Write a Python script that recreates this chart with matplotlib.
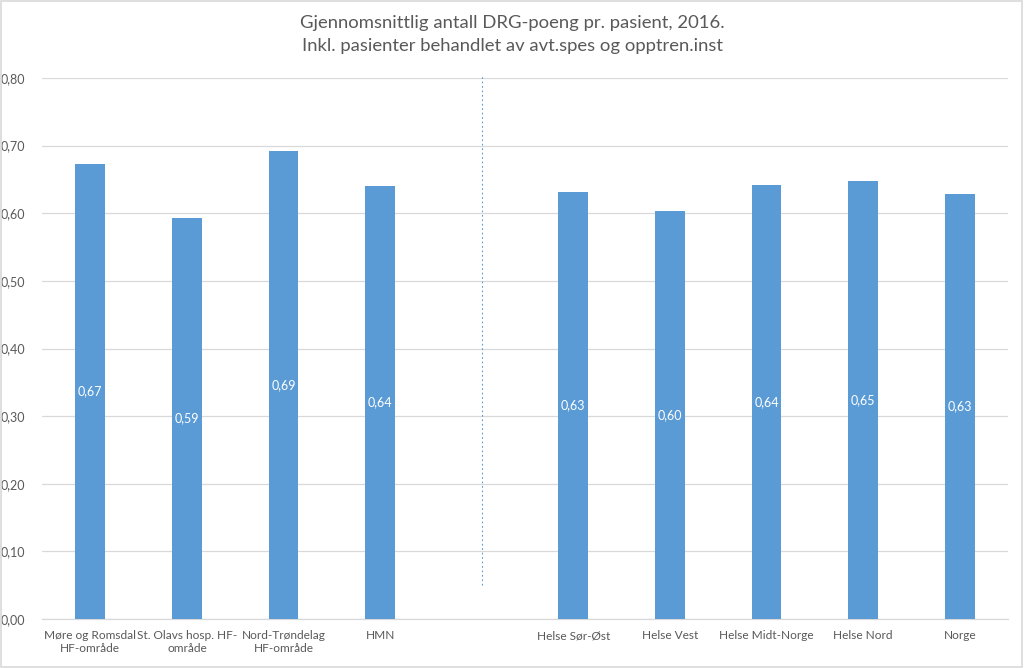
import matplotlib

matplotlib.use("Agg")
import matplotlib.pyplot as plt
import numpy as np

# Data (slot 4 is an empty separator slot)
categories = [
    "Møre og Romsdal\nHF-område",
    "St. Olavs hosp. HF-\nområde",
    "Nord-Trøndelag\nHF-område",
    "HMN",
    "",
    "Helse Sør-Øst",
    "Helse Vest",
    "Helse Midt-Norge",
    "Helse Nord",
    "Norge",
]
values = [0.673, 0.593, 0.692, 0.641, np.nan, 0.631, 0.603, 0.642, 0.648, 0.629]
value_labels = ["0,67", "0,59", "0,69", "0,64", "", "0,63", "0,60", "0,64", "0,65", "0,63"]
y_ticks = [0.0, 0.1, 0.2, 0.3, 0.4, 0.5, 0.6, 0.7, 0.8]
y_tick_labels = ["0,00", "0,10", "0,20", "0,30", "0,40", "0,50", "0,60", "0,70", "0,80"]
separator_x = 4.05
separator_span = (0.05, 0.805)

plt.rcParams["font.family"] = ["Lato", "DejaVu Sans"]
text_color = "#595959"
bar_color = "#5B9BD5"

fig = plt.figure(figsize=(10.24, 6.68), dpi=100)
fig.patch.set_facecolor("white")
ax = fig.add_axes([42 / 1024, 1 - 619 / 668, 966 / 1024, 541 / 668])

x = np.arange(len(categories))
ax.bar(x, np.nan_to_num(values), width=0.31, color=bar_color, zorder=3)
for xi, v, lab in zip(x, values, value_labels):
    if np.isnan(v):
        continue
    ax.text(xi, v / 2, lab, ha="center", va="center", color="white",
            fontsize=9, zorder=4)

ax.plot([separator_x, separator_x], separator_span, color="#5B9BD5",
        linestyle=(0, (1.5, 2.5)), linewidth=0.8, zorder=2, clip_on=False)

ax.set_xlim(-0.5, len(categories) - 0.5)
ax.set_ylim(0, 0.8)
ax.set_yticks(y_ticks)
ax.set_yticklabels(y_tick_labels)
ax.set_xticks(x)
ax.set_xticklabels(categories, linespacing=1.25, fontsize=8.6)
ax.tick_params(axis="both", length=0, colors=text_color)
ax.tick_params(axis="y", labelsize=9, pad=12)
ax.tick_params(axis="x", pad=8)
ax.grid(axis="y", color="#D9D9D9", linewidth=0.9, zorder=0)
for side in ("top", "right", "left"):
    ax.spines[side].set_visible(False)
ax.spines["bottom"].set_color("#D9D9D9")
ax.spines["bottom"].set_linewidth(0.9)

fig.text(0.5, 1 - 15 / 668,
         "Gjennomsnittlig antall DRG-poeng pr. pasient, 2016.\n"
         "Inkl. pasienter behandlet av avt.spes og opptren.inst",
         ha="center", va="top", color=text_color, fontsize=13.3,
         linespacing=1.55)

# light frame around the chart area
fig.patches.append(plt.Rectangle((0.001, 0.002), 0.997, 0.996, transform=fig.transFigure,
                                 fill=False, edgecolor="#D9D9D9", linewidth=1.2))

fig.savefig("out.png", dpi=100)
